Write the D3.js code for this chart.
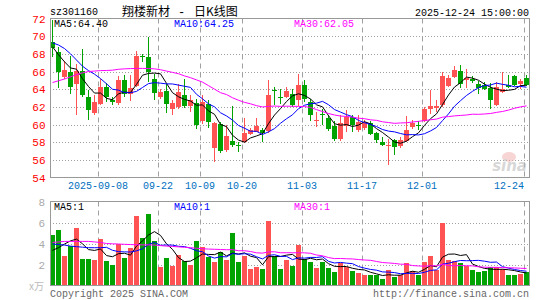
<!DOCTYPE html>
<html>
<head>
<meta charset="utf-8">
<script src="https://cdn.jsdelivr.net/npm/d3@7/dist/d3.min.js"></script>
<style>
  body { margin: 0; background: #fff; }
</style>
</head>
<body>
<div id="chart"></div>
<script>
"use strict";

// trading days shown (2025-08-27 .. 2025-12-24)
const dates = [
  '08-27','08-28','08-29','09-01','09-02','09-03','09-04','09-05','09-08','09-09',
  '09-10','09-11','09-12','09-15','09-16','09-17','09-18','09-19','09-22','09-23',
  '09-24','09-25','09-26','09-29','09-30','10-09','10-10','10-13','10-14','10-15',
  '10-16','10-17','10-20','10-21','10-22','10-23','10-24','10-27','10-28','10-29',
  '10-30','10-31','11-03','11-04','11-05','11-06','11-07','11-10','11-11','11-12',
  '11-13','11-14','11-17','11-18','11-19','11-20','11-21','11-24','11-25','11-26',
  '11-27','11-28','12-01','12-02','12-03','12-04','12-05','12-08','12-09','12-10',
  '12-11','12-12','12-15','12-16','12-17','12-18','12-19','12-22','12-23','12-24'
];

const opens = [69.3,68.2,65.4,66.0,64.6,66.1,63.1,61.3,62.3,64.2, 62.75,62.4,65.0,63.4,64.4,67.8,67.6,65.2,63.1,63.8,
  61.8,62.0,63.3,62.1,62.4,60.4,62.3,57.3,60.1,57.1, 58.15,57.7,58.0,58.95,59.2,59.35,59.3,63.95,63.15,63.1,
  63.5,62.8,64.5,62.6,60.35,61.15,60.75,59.85,58.35,59.85, 60.9,59.4,59.6,60.2,59.0,58.0,57.55,58.2,57.55,58.15,
  59.7,59.95,60.45,61.8,61.85,62.2,64.4,65.4,66.05,65.0, 65.2,64.6,64.45,64.1,62.2,63.7,64.5,65.5,64.6,65.3];
const highs = [71.8,68.8,67.2,67.7,66.8,68.5,63.9,63.3,65.2,64.7, 63.1,65.5,65.6,65.6,68.3,68.0,69.9,65.7,64.0,64.6,
  62.8,64.6,65.1,63.3,62.9,63.3,62.8,60.3,60.3,59.9, 62.1,58.0,60.7,59.6,60.7,59.6,65.0,64.2,64.0,64.2,
  64.0,65.7,65.0,62.9,61.4,61.8,61.05,60.4,61.05,61.6, 61.1,61.05,60.5,60.4,59.2,58.6,58.4,58.4,58.6,61.0,
  60.5,60.4,62.0,63.9,62.8,66.0,65.6,66.6,66.75,66.3, 65.5,64.9,64.8,64.65,64.8,65.9,65.6,65.6,65.1,65.6];
const lows = [67.6,64.1,65.2,63.4,61.1,63.1,60.5,61.1,62.2,62.6, 62.2,62.2,63.1,62.7,64.2,67.1,64.8,62.8,62.9,61.3,
  61.1,61.8,61.9,61.4,59.5,60.1,59.6,55.7,56.8,56.9, 57.5,56.9,57.9,58.8,59.1,58.0,59.0,62.2,62.3,63.0,
  62.0,62.1,62.6,60.4,59.7,59.9,59.3,58.1,58.1,59.2, 59.2,59.2,59.4,58.8,57.85,57.6,55.4,56.6,57.3,58.0,
  59.5,59.35,60.3,61.2,61.4,62.0,64.2,65.3,64.15,64.1, 64.7,63.4,63.9,61.75,62.1,63.6,64.1,64.4,64.0,64.4];
const closes = [68.7,66.0,66.2,64.3,66.1,63.3,61.6,62.5,64.3,63.1, 62.5,65.0,63.4,64.1,67.7,67.7,66.0,63.6,63.7,62.3,
  62.4,63.7,62.1,62.8,59.9,62.6,60.3,60.2,57.0,58.7, 57.7,57.6,59.0,59.4,59.8,59.0,63.3,63.85,63.05,63.8,
  62.2,64.5,62.9,61.05,60.5,61.05,59.5,58.35,60.2,60.9, 59.9,60.3,60.3,58.98,58.2,57.7,57.7,57.5,58.3,59.4,
  60.2,59.9,61.7,62.1,62.1,65.5,65.3,66.2,64.55,65.3, 64.9,64.1,64.0,62.75,64.26,64.07,64.3,64.5,64.9,64.45];

// volume, x万
const volumes = [4.8,5.3,2.8,3.75,5.45,2.55,2.55,2.4,4.45,2.3, 2.0,4.0,2.6,3.55,6.6,4.5,6.8,4.2,1.75,2.6,
  1.85,2.9,2.3,1.95,4.2,3.65,2.7,2.2,3.15,2.4, 5.0,2.2,2.8,1.55,1.75,1.55,6.1,2.8,1.6,2.4,
  1.9,3.9,2.5,2.25,1.7,2.25,1.7,1.25,2.1,1.75, 1.4,1.15,1.0,1.0,1.0,0.6,1.5,0.8,1.0,2.1,
  1.4,1.0,2.2,2.8,1.5,6.0,2.4,2.3,2.1,1.9, 1.5,1.25,1.4,1.75,1.75,1.6,1.0,1.0,1.1,1.25];

// moving average values read off the left end, where the earlier days are not on the chart
const ma5Head = [68.8,67.9,67.1,66.4];
const ma10Head = [69.25,69.0,68.6,68.0,67.3,66.6,66.1,65.7,65.2];
const ma30Head = [64.75,64.95,65.15,65.4,65.65,65.85,66.0,66.05,66.1,66.12, 66.15,66.25,66.3,66.33,66.35,66.35,66.34,66.3,66.2,66.05,
  65.9,65.75,65.5,65.3,65.05,64.8,64.4,64.0,63.6];
const vma5Head = [3.35,3.6,3.95,4.25];
const vma10Head = [3.95,3.9,3.85,3.75,3.7,3.65,3.6,3.6,3.6];
const vma30Head = [4.1,4.15,4.2,4.2,4.2,4.2,4.2,4.15,4.1,4.0, 3.97,3.95,3.92,3.9,3.88,3.87,3.87,3.85,3.8,3.75,
  3.72,3.68,3.64,3.6,3.55,3.5,3.47,3.45,3.43];

const priceTicks = [54,56,58,60,62,64,66,68,70,72];
const volTicks = [2,4,6,8];
const dateTicks = ['09-08','09-22','10-09','10-20','11-03','11-17','12-01','12-24'];
const dateTickLabels = ['2025-09-08','09-22','10-09','10-20','11-03','11-17','12-01','12-24'];
const priceLegend = ['MA5:64.40','MA10:64.25','MA30:62.05'];
const volLegend = ['MA5:1','MA10:1','MA30:1'];
const maColors = ['#000000','#0000ff','#ff00ff'];

const RED = '#ff5252', GREEN = '#00a300', GRID = '#a0a0a0';
const MONO = "'Liberation Mono', 'DejaVu Sans Mono', monospace";

const W = 545, H = 300;
const L = 50, R = 529;

const svg = d3.select('#chart').append('svg')
    .attr('width', W).attr('height', H)
    .style('font-family', MONO).style('font-size', '10px');
svg.append('rect').attr('width', W).attr('height', H).attr('fill', '#fff');

const x = d3.scaleBand().domain(dates).range([49.5, 529.5]).paddingInner(1 / 6).paddingOuter(1 / 12);
const cx = d => x(d) + x.bandwidth() / 2;
const y = d3.scaleLinear().domain([54, 72]).range([177.5, 18.5]);
const yv = d3.scaleLinear().domain([0, 8]).range([285.5, 201.5]);

const movingAvg = (vals, n, head) => vals.map((v, i) => i < head.length ? head[i] : d3.mean(vals.slice(i - n + 1, i + 1)));

const candles = dates.map((d, i) => ({ date: d, o: opens[i], h: highs[i], l: lows[i], c: closes[i], v: volumes[i] }));
const priceMAs = [movingAvg(closes, 5, ma5Head), movingAvg(closes, 10, ma10Head), movingAvg(closes, 30, ma30Head)];
const volMAs = [movingAvg(volumes, 5, vma5Head), movingAvg(volumes, 10, vma10Head), movingAvg(volumes, 30, vma30Head)];

// header
svg.append('text').attr('x', 50).attr('y', 15).text('sz301160');
const title = svg.append('text').attr('y', 15.5)
    .style('font-family', "'Noto Sans CJK SC', sans-serif").style('font-size', '12px');
title.append('tspan').attr('x', 122).text('翔楼新材');
title.append('tspan').attr('x', 178).style('font-family', MONO).text('-');
title.append('tspan').attr('x', 194).text('日K线图');
svg.append('text').attr('x', 529).attr('y', 15.5).attr('text-anchor', 'end').text('2025-12-24 15:00:00');

// grid for a panel
function drawPanel(yScale, ticks, top, bottom) {
    const g = svg.append('g');
    g.selectAll('.hgrid').data(ticks.filter(t => yScale(t) > top + 1 && yScale(t) < bottom - 1)).enter()
        .append('line').attr('class', 'hgrid')
        .attr('x1', L).attr('x2', R)
        .attr('y1', d => Math.round(yScale(d)) + 0.5).attr('y2', d => Math.round(yScale(d)) + 0.5)
        .attr('stroke', GRID).attr('stroke-dasharray', '1,2');
    g.selectAll('.vgrid').data(dateTicks).enter()
        .append('line').attr('class', 'vgrid')
        .attr('x1', d => x(d) + 0.5).attr('x2', d => x(d) + 0.5)
        .attr('y1', top).attr('y2', bottom)
        .attr('stroke', GRID).attr('stroke-dasharray', '5,4');
    return g;
}

drawPanel(y, priceTicks, 18.5, 177.5);
drawPanel(yv, volTicks, 201.5, 285.5);

// sina watermark
const wm = svg.append('g').attr('opacity', 0.55);
wm.append('ellipse').attr('cx', 509).attr('cy', 157).attr('rx', 7).attr('ry', 5).attr('fill', '#f3b3b3');
wm.append('text').attr('x', 527).attr('y', 171).attr('text-anchor', 'end')
    .style('font-family', "'DejaVu Sans', sans-serif").style('font-size', '15px')
    .style('font-weight', 'bold').style('font-style', 'italic').attr('fill', '#b8b8b8').text('sina');

// candles
const cg = svg.append('g').attr('shape-rendering', 'crispEdges');
cg.selectAll('.wick').data(candles).enter().append('line').attr('class', 'wick')
    .attr('x1', d => cx(d.date)).attr('x2', d => cx(d.date))
    .attr('y1', d => y(d.h)).attr('y2', d => y(d.l))
    .attr('stroke', d => d.c >= d.o ? RED : GREEN);
cg.selectAll('.body').data(candles).enter().append('rect').attr('class', 'body')
    .attr('x', d => x(d.date)).attr('width', x.bandwidth())
    .attr('y', d => y(Math.max(d.o, d.c)))
    .attr('height', d => Math.max(1, y(Math.min(d.o, d.c)) - y(Math.max(d.o, d.c))))
    .attr('fill', d => d.c >= d.o ? RED : GREEN);

// volume bars
cg.selectAll('.vol').data(candles).enter().append('rect').attr('class', 'vol')
    .attr('x', d => x(d.date)).attr('width', x.bandwidth())
    .attr('y', d => yv(d.v)).attr('height', d => yv(0) - yv(d.v))
    .attr('fill', d => d.c >= d.o ? RED : GREEN);

// MA lines
svg.append('clipPath').attr('id', 'clipP').append('rect').attr('x', L).attr('y', 18).attr('width', R - L).attr('height', 160);
svg.append('clipPath').attr('id', 'clipV').append('rect').attr('x', L).attr('y', 201).attr('width', R - L).attr('height', 85);

priceMAs.forEach((ma, k) => {
    let line = d3.line().x((d, i) => cx(dates[i])).y(d => y(d));
    svg.append('path').datum(ma).attr('d', line).attr('clip-path', 'url(#clipP)')
        .attr('fill', 'none').attr('stroke', maColors[k]).attr('stroke-width', 1);
});
volMAs.forEach((ma, k) => {
    let line = d3.line().x((d, i) => cx(dates[i])).y(d => yv(d));
    svg.append('path').datum(ma).attr('d', line).attr('clip-path', 'url(#clipV)')
        .attr('fill', 'none').attr('stroke', maColors[k]).attr('stroke-width', 1);
});

// frames
[[18.5, 177.5], [201.5, 285.5]].forEach(([t, b]) => {
    svg.append('rect').attr('x', L + 0.5).attr('y', t).attr('width', R - L).attr('height', b - t)
        .attr('fill', 'none').attr('stroke', '#999').attr('shape-rendering', 'crispEdges');
});

// axes labels
const yAxis = d3.axisLeft(y).tickValues(priceTicks).tickSize(0).tickPadding(4);
svg.append('g').attr('transform', `translate(${L - 0.5},0)`).call(yAxis)
    .call(g => g.select('.domain').remove())
    .selectAll('text').attr('fill', '#ff0000').style('font-family', MONO).style('font-size', '11px');

const vAxis = d3.axisLeft(yv).tickValues(volTicks).tickSize(0).tickPadding(5);
svg.append('g').attr('transform', `translate(${L},0)`).call(vAxis)
    .call(g => g.select('.domain').remove())
    .selectAll('text').attr('fill', '#aaa').style('font-family', MONO).style('font-size', '11px');
svg.append('text').attr('x', 44).attr('y', 290).attr('text-anchor', 'end').attr('fill', '#bbb')
    .style('font-family', "'Noto Sans CJK SC', sans-serif").style('font-size', '10px').text('x万');

const xAxis = d3.axisBottom(x).tickValues(dateTicks).tickSize(0).tickPadding(0)
    .tickFormat((d, i) => dateTickLabels[i]);
svg.append('g').attr('transform', 'translate(0,182)').call(xAxis)
    .call(g => g.select('.domain').remove())
    .call(g => g.selectAll('.tick').attr('transform', d => `translate(${x(d)},0)`))
    .selectAll('text').attr('fill', '#0070c0').style('font-family', MONO).style('font-size', '10px')
    .attr('text-anchor', d => d === '12-24' ? 'end' : 'middle');

// legends
const legX = [54, 174, 294];
priceLegend.forEach((t, k) => svg.append('text').attr('x', legX[k]).attr('y', 27).attr('fill', maColors[k]).text(t));
volLegend.forEach((t, k) => svg.append('text').attr('x', legX[k]).attr('y', 210).attr('fill', maColors[k]).text(t));

// footer
svg.append('text').attr('x', 50).attr('y', 297).attr('fill', '#666').text('Copyright 2025 SINA.COM');
svg.append('text').attr('x', 529).attr('y', 297).attr('text-anchor', 'end').attr('fill', '#666').text('http://finance.sina.com.cn');
</script>
</body>
</html>
